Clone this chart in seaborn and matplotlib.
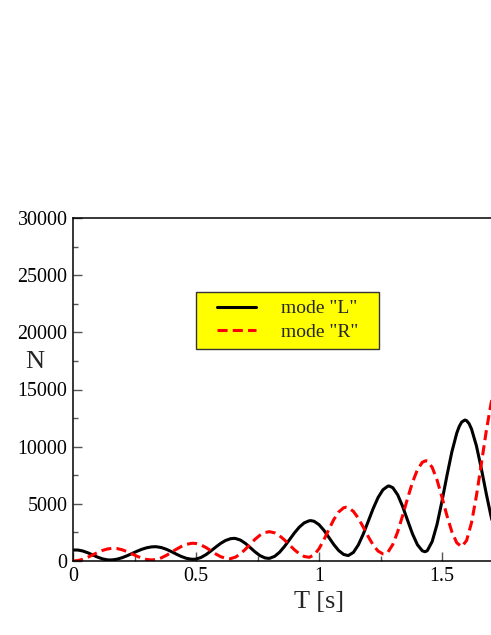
import numpy as np
import pandas as pd
import matplotlib
matplotlib.use("Agg")
import matplotlib.pyplot as plt
from matplotlib.ticker import MultipleLocator
from matplotlib.path import Path
import seaborn as sns

# ---- data ----
T_L = [0.00, 0.02, 0.04, 0.06, 0.08, 0.10, 0.12, 0.14, 0.15, 0.16, 0.18,
       0.20, 0.22, 0.24, 0.26, 0.28, 0.30, 0.32, 0.333, 0.34, 0.36, 0.38,
       0.40, 0.42, 0.44, 0.46, 0.48, 0.489, 0.50, 0.52, 0.54, 0.56, 0.58,
       0.60, 0.62, 0.64, 0.654, 0.66, 0.68, 0.70, 0.72, 0.74, 0.76, 0.78,
       0.794, 0.80, 0.82, 0.84, 0.86, 0.88, 0.90, 0.92, 0.94, 0.96, 0.967, 0.98,
       1.00, 1.02, 1.04, 1.06, 1.08, 1.10, 1.117, 1.12, 1.14, 1.16, 1.18,
       1.20, 1.22, 1.24, 1.26, 1.28, 1.285, 1.30, 1.32, 1.34, 1.36, 1.38,
       1.40, 1.42, 1.431, 1.44, 1.46, 1.48, 1.50, 1.52, 1.54, 1.56, 1.57, 1.58,
       1.593, 1.60, 1.61, 1.62, 1.64, 1.66, 1.68, 1.70, 1.72, 1.74]
N_L = [960, 959, 874, 721, 530, 339, 186, 101, 90, 98, 165,
       291, 461, 655, 851, 1026, 1159, 1236, 1250, 1245, 1171, 1022,
       821, 601, 397, 241, 159, 150, 170, 305, 549, 866, 1212,
       1537, 1795, 1948, 1980, 1972, 1835, 1554, 1183, 798, 473, 273,
       230, 240, 411, 773, 1280, 1865, 2452, 2965, 3336, 3517, 3530, 3474,
       3180, 2683, 2069, 1443, 915, 576, 480, 485, 757, 1411, 2357,
       3463, 4576, 5546, 6232, 6547, 6560, 6411, 5783, 4771, 3561, 2375,
       1427, 890, 810, 898, 1697, 3218, 5241, 7457, 9538, 11187, 11768, 12151,
       12330, 12276, 12014, 11545, 10066, 8072, 5882, 3842, 2266, 1410]

T_R = [0.00, 0.02, 0.04, 0.06, 0.08, 0.10, 0.12, 0.14, 0.16, 0.164, 0.18,
       0.20, 0.22, 0.24, 0.26, 0.28, 0.30, 0.32, 0.34, 0.36, 0.38,
       0.40, 0.42, 0.44, 0.46, 0.48, 0.489, 0.50, 0.52, 0.54, 0.56, 0.58,
       0.60, 0.62, 0.635, 0.64, 0.66, 0.68, 0.70, 0.72, 0.74, 0.76, 0.78,
       0.798, 0.80, 0.82, 0.84, 0.86, 0.88, 0.90, 0.92, 0.94, 0.96, 0.98,
       1.00, 1.02, 1.04, 1.06, 1.08, 1.10, 1.11, 1.12, 1.14, 1.16, 1.18,
       1.20, 1.22, 1.24, 1.26, 1.265, 1.28, 1.30, 1.32, 1.34, 1.36, 1.38,
       1.40, 1.42, 1.434, 1.44, 1.46, 1.48, 1.50, 1.52, 1.54, 1.56, 1.58,
       1.60, 1.62, 1.64, 1.66, 1.68, 1.70, 1.72, 1.74]
N_R = [0, 40, 155, 328, 534, 743, 925, 1052, 1108, 1110, 1084,
       982, 819, 621, 419, 246, 131, 90, 140, 283, 499,
       759, 1027, 1268, 1447, 1540, 1550, 1531, 1405, 1183, 904, 620,
       382, 235, 200, 205, 334, 617, 1011, 1459, 1898, 2257, 2490,
       2560, 2559, 2458, 2204, 1836, 1407, 983, 629, 396, 322, 526,
       1070, 1860, 2761, 3620, 4286, 4653, 4700, 4658, 4334, 3737, 2965,
       2141, 1403, 868, 621, 610, 768, 1443, 2562, 3974, 5478, 6878,
       7983, 8634, 8770, 8739, 8197, 7073, 5573, 3973, 2559, 1591, 1250,
       1796, 3356, 5708, 8511, 11370, 13871, 15652, 16466]

labels = ['mode "L"', 'mode "R"']
x_ticks = [0, 0.5, 1, 1.5]
x_ticklabels = ["0", "0.5", "1", "1.5"]
y_ticks = [0, 5000, 10000, 15000, 20000, 25000, 30000]
y_ticklabels = ["0", "5000", "10000", "15000", "20000", "25000", "30000"]

df_L = pd.DataFrame({"T": T_L, "N": N_L})
df_R = pd.DataFrame({"T": T_R, "N": N_R})

# ---- style ----
sns.set_style("ticks")
plt.rcParams["font.family"] = ["Liberation Serif", "DejaVu Serif"]

fig = plt.figure(figsize=(4.91, 6.35), dpi=100)
W, H = 491, 635
# axes extends beyond the right edge of the picture (cropped original)
ax = fig.add_axes([73 / W, 74 / H, 492 / W, 343 / H])

sns.lineplot(data=df_L, x="T", y="N", ax=ax, color="black", lw=2.2,
             label=labels[0], estimator=None, sort=False)
sns.lineplot(data=df_R, x="T", y="N", ax=ax, color="#ff0000", lw=2.2,
             label=labels[1], estimator=None, sort=False)
ax.lines[1].set_dashes((3.3, 1.7))

ax.set_xlim(0, 2)
ax.set_ylim(0, 30000)
ax.set_xticks(x_ticks)
ax.set_xticklabels(x_ticklabels)
ax.set_yticks(y_ticks)
ax.set_yticklabels(y_ticklabels)
ax.xaxis.set_minor_locator(MultipleLocator(0.25))
ax.yaxis.set_minor_locator(MultipleLocator(2500))

ax.tick_params(which="both", direction="in", colors="#555555",
               labelcolor="black", labelsize=14.4, top=False, right=False)
ax.tick_params(which="major", length=6.5, width=1.0, pad=4)
ax.tick_params(which="minor", length=3.6, width=1.0)

for s in ax.spines.values():
    s.set_visible(True)
    s.set_color("black")
    s.set_linewidth(1.1)

ax.set_xlabel("T [s]", fontsize=19, labelpad=4)
ax.set_ylabel("N", fontsize=19, rotation=0, ha="center", va="center")
ax.yaxis.set_label_coords(-0.077, 0.58)


def wide_box(x0, y0, width, height, mutation_size, *args, **kwargs):
    dx = 0.67 * mutation_size
    verts = [(x0 - dx, y0), (x0 + width + dx, y0),
             (x0 + width + dx, y0 + height), (x0 - dx, y0 + height),
             (x0 - dx, y0)]
    return Path(verts, closed=True)


leg = ax.legend(loc="upper left", bbox_to_anchor=(0.2764, 0.784),
                fontsize=14, frameon=True, fancybox=False, shadow=False,
                framealpha=1, facecolor="#ffff00", edgecolor="#333333",
                handlelength=2.0, handletextpad=1.3, borderpad=0.4,
                labelspacing=0.3, borderaxespad=0)
leg.get_frame().set_linewidth(1.0)
leg.get_frame().set_boxstyle(wide_box)

ax.set_facecolor("white")
fig.patch.set_facecolor("white")
fig.savefig("out.png", dpi=100)
